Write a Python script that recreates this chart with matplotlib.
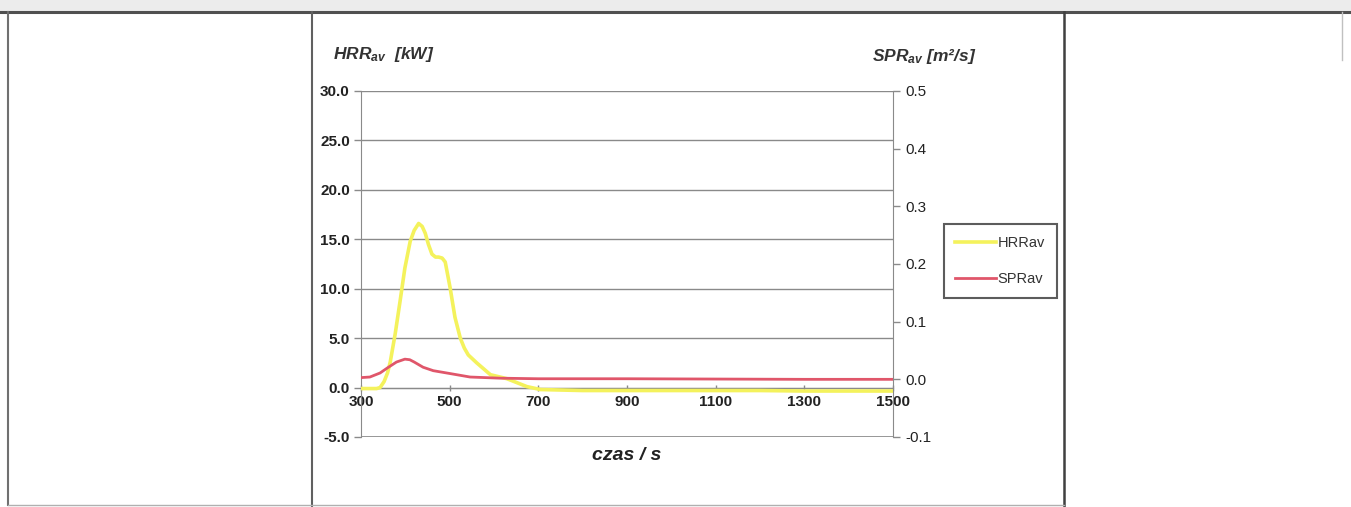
import numpy as np
import matplotlib
matplotlib.use('Agg')
import matplotlib.pyplot as plt
from matplotlib.ticker import MultipleLocator, FormatStrFormatter

plt.rcParams['font.family'] = ['Liberation Sans', 'DejaVu Sans']
plt.rcParams['mathtext.fontset'] = 'custom'
plt.rcParams['mathtext.it'] = 'Liberation Sans:italic:bold'
plt.rcParams['mathtext.rm'] = 'Liberation Sans:bold'
plt.rcParams['mathtext.bf'] = 'Liberation Sans:bold'

# %% dane
czas_hrr = [300, 335, 343, 352, 360, 366, 377, 388, 399, 411, 420, 430, 438,
            445, 452, 460, 468, 475, 483, 490, 501, 512, 524, 533, 542, 561,
            592, 629, 674, 705, 800, 900, 1000, 1100, 1200, 1300, 1400, 1500]
hrr_av = [-0.1, -0.1, 0.0, 0.6, 1.5, 2.6, 5.4, 8.7, 12.1, 14.8, 15.9, 16.6,
          16.3, 15.6, 14.5, 13.5, 13.2, 13.2, 13.1, 12.7, 10.1, 7.1, 5.0, 4.0,
          3.3, 2.5, 1.3, 0.9, 0.1, -0.2, -0.3, -0.3, -0.3, -0.3, -0.3, -0.35,
          -0.35, -0.35]

czas_spr = [300, 320, 343, 360, 380, 399, 410, 420, 440, 463, 501, 546, 614,
            700, 900, 1100, 1300, 1500]
spr_av = [0.003, 0.004, 0.011, 0.020, 0.030, 0.035, 0.034, 0.030, 0.021,
          0.015, 0.010, 0.004, 0.002, 0.001, 0.001, 0.0005, 0.0, 0.0]

x_ticks = [300, 500, 700, 900, 1100, 1300, 1500]

W, H = 1351, 507
fig = plt.figure(figsize=(W / 100, H / 100), dpi=100)

# %% ramka tabeli (skan)
bg = fig.add_axes([0, 0, 1, 1], zorder=0)
bg.set_xlim(0, W)
bg.set_ylim(H, 0)
bg.axis('off')
bg.fill_between([0, W], 0, 11, color='#ececec', lw=0)
bg.plot([0, W], [12, 12], color='#505050', lw=2.2)
bg.plot([8, 8], [12, 505], color='#707070', lw=1.5)
bg.plot([312, 312], [12, 507], color='#606060', lw=1.5)
bg.plot([1064, 1064], [12, 507], color='#404040', lw=1.8)
bg.plot([1342, 1342], [12, 60], color='#c0c0c0', lw=1.0)
bg.plot([8, 1064], [505, 505], color='#b0b0b0', lw=1.0)

# %% wykres
left, right, top, bottom = 361, 893, 91, 437
ax = fig.add_axes([left / W, 1 - bottom / H, (right - left) / W, (bottom - top) / H], zorder=2)
ax.patch.set_alpha(0)

ax.plot(czas_hrr, hrr_av, color='#f4f25c', lw=2.6, label='HRRav', zorder=3,
        solid_joinstyle='round')

ax.set_xlim(300, 1500)
ax.set_ylim(-5, 30)
ax.yaxis.set_major_locator(MultipleLocator(5))
ax.yaxis.set_major_formatter(FormatStrFormatter('%.1f'))
ax.set_xticks(x_ticks)
ax.grid(axis='y', color='#8a8a8a', lw=1.0)
ax.set_axisbelow(True)

for s in ['top', 'right']:
    ax.spines[s].set_visible(False)
ax.spines['left'].set_color('#8a8a8a')
ax.spines['bottom'].set_position(('data', 0))
ax.spines['bottom'].set_color('#8a8a8a')
ax.tick_params(axis='y', colors='#8a8a8a', length=5, width=1, labelcolor='#222222',
               labelsize=11, pad=3)
ax.tick_params(axis='x', colors='#8a8a8a', length=4, width=1, labelcolor='#222222',
               labelsize=11, pad=3, direction='inout')
for lab in ax.get_yticklabels() + ax.get_xticklabels():
    lab.set_fontweight('bold')

ax2 = ax.twinx()
ax2.plot(czas_spr, spr_av, color='#e0566a', lw=2.0, label='SPRav', zorder=3,
         solid_joinstyle='round')
ax2.set_ylim(-0.1, 0.5)
ax2.yaxis.set_major_locator(MultipleLocator(0.1))
ax2.yaxis.set_major_formatter(FormatStrFormatter('%.1f'))
for s in ['top', 'left', 'bottom']:
    ax2.spines[s].set_visible(False)
ax2.spines['right'].set_color('#8a8a8a')
ax2.tick_params(axis='y', colors='#8a8a8a', length=5, width=1, labelcolor='#222222',
                labelsize=11, pad=4)

# dolna krawedz obszaru wykresu
ax.axhline(-5, color='#8a8a8a', lw=1.2)

# %% opisy osi
fig.text(333 / W, 1 - 54 / H, r'$HRR_{av}$  [kW]', fontsize=12.5, fontweight='bold',
         style='italic', color='#333333', va='center', ha='left')
fig.text(872 / W, 1 - 57 / H, r'$SPR_{av}$ [m²/s]', fontsize=12.5, fontweight='bold',
         style='italic', color='#333333', va='center', ha='left')
fig.text(627 / W, 1 - 455 / H, 'czas / s', fontsize=14, fontweight='bold',
         style='italic', color='#222222', va='center', ha='center')

# %% legenda
h1, l1 = ax.get_legend_handles_labels()
h2, l2 = ax2.get_legend_handles_labels()
leg = fig.legend(h1 + h2, l1 + l2, loc='center', bbox_to_anchor=(1000 / W, 1 - 261 / H),
                 frameon=True, fancybox=False, fontsize=10.5, handlelength=2.8,
                 handletextpad=0.1, labelspacing=1.5, borderpad=0.8)
leg.get_frame().set_edgecolor('#333333')
leg.get_frame().set_linewidth(1.5)
for t in leg.get_texts():
    t.set_color('#333333')

fig.savefig('out.png', dpi=100)
